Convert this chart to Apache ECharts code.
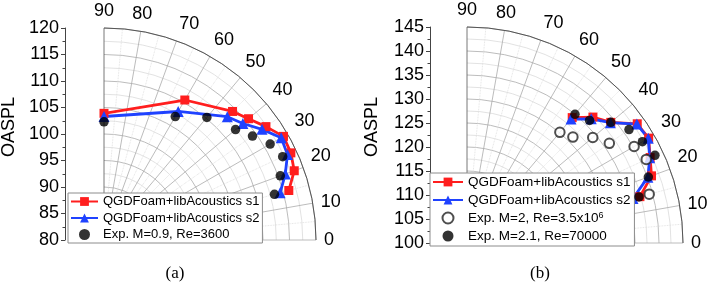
<!DOCTYPE html>
<html><head><meta charset="utf-8">
<script src="https://cdn.jsdelivr.net/npm/echarts@6/dist/echarts.min.js"></script>
<style>html,body{margin:0;padding:0;background:#fff}#c{width:710px;height:287px}</style>
</head><body><div id="c"></div>
<script>
// ---- Data ----
const angleTicks = [0, 10, 20, 30, 40, 50, 60, 70, 80, 90];
const nameS1 = 'QGDFoam+libAcoustics s1';
const nameS2 = 'QGDFoam+libAcoustics s2';
const nameExpA = 'Exp. M=0.9, Re=3600';
const nameExpB1 = 'Exp. M=2, Re=3.5x10^6';
const nameExpB2 = 'Exp. M=2.1, Re=70000';

// Panel (a): OASPL vs angle
const aS1Angles = [90, 60, 45, 40, 35, 30, 25, 20, 15];
const aS1 = [103.9, 110.5, 114.3, 115.6, 117.3, 119.1, 118.9, 118.2, 116.1];
const aS2Angles = [90, 60, 45, 40, 35, 30, 25, 20, 15];
const aS2 = [103.3, 108.0, 112.9, 114.2, 116.4, 118.6, 118.2, 116.4, 114.4];
const aExpAngles = [90, 60, 50, 40, 35, 30, 25, 20, 15];
const aExp = [102.3, 106.9, 110.2, 112.4, 114.2, 116.2, 117.2, 115.4, 113.3];

// Panel (b)
const bS1Angles = [50, 45, 40, 35, 30, 25, 20, 15];
const bS1 = [134.1, 137.1, 139.1, 143.3, 143.7, 142.1, 140.9, 137.3];
const bS2Angles = [50, 45, 40, 35, 30, 25, 20, 15];
const bS2 = [133.7, 136.6, 139.0, 143.2, 143.6, 142.0, 140.1, 135.8];
const bExp1Angles = [50, 45, 40, 35, 30, 25, 15];
const bExp1 = [130.1, 131.2, 134.2, 136.2, 140.2, 141.2, 139.3];
const bExp2Angles = [50, 45, 40, 35, 30, 25, 20, 15];
const bExp2 = [135.0, 136.1, 139.1, 141.2, 142.2, 143.2, 140.2, 137.1];

const aRange = [80, 120];
const bRange = [100, 145];

// ---- Styling / layout ----
const FONT = '"Liberation Sans", Arial, sans-serif';
const RED = '#ff1e1e', BLUE = '#1f42ff';
const MAJOR = '#ababab', MINOR = '#dadada', DARK = '#555';

function zip(r, a) { return r.map((v, i) => [v, a[i]]); }

function angleAxis(idx) {
  const colors = angleTicks.map((t, i) => i === angleTicks.length - 1 ? DARK : MAJOR);
  return {
    polarIndex: idx, type: 'value', min: angleTicks[0], max: angleTicks[angleTicks.length - 1], interval: 10,
    startAngle: 0, endAngle: 90, clockwise: false,
    axisLine: { show: true, lineStyle: { color: DARK, width: 1 } },
    axisTick: { show: false },
    axisLabel: { fontSize: 18, color: '#000', fontFamily: FONT, margin: 8 },
    splitLine: { show: true, lineStyle: { color: colors, width: 0.8 } },
    minorTick: { show: false, splitNumber: 2 },
    minorSplitLine: { show: true, lineStyle: { color: MINOR, width: 0.8, type: 'dotted' } }
  };
}
function radiusAxis(idx, range) {
  return {
    polarIndex: idx, type: 'value', min: range[0], max: range[1], interval: 2.5,
    axisLine: { show: false },
    axisTick: { show: false }, axisLabel: { show: false },
    splitLine: { show: true, lineStyle: { color: [MAJOR, MINOR], width: 0.8 } },
    minorSplitLine: { show: false }
  };
}
function yAxis(idx, range) {
  return {
    gridIndex: idx, type: 'value', min: range[0], max: range[1], interval: 5,
    axisLine: { show: true, lineStyle: { color: '#444', width: 1 } },
    axisTick: { show: true, length: 4, lineStyle: { color: '#444' } },
    minorTick: { show: true, splitNumber: 2, length: 2.5, lineStyle: { color: '#444' } },
    axisLabel: { fontSize: 18, color: '#000', fontFamily: FONT, margin: 6 },
    splitLine: { show: false }
  };
}
function lineSeries(name, idx, data, color, symbol, size) {
  return {
    name, type: 'line', coordinateSystem: 'polar', polarIndex: idx, data,
    symbol, symbolSize: size, showSymbol: true,
    lineStyle: { color, width: 2.8 }, itemStyle: { color }, z: 3
  };
}
function scatterSeries(name, idx, data, open) {
  return {
    name, type: 'scatter', coordinateSystem: 'polar', polarIndex: idx, data,
    symbol: open ? 'emptyCircle' : 'circle', symbolSize: 9.5,
    itemStyle: open ? { color: '#222', borderWidth: 1 } : { color: '#000' }, z: 4
  };
}
function legend(left, top, names, fontSize, itemWidth, gap, padding) {
  return {
    left, top, orient: 'vertical', data: names, selectedMode: false,
    itemWidth, itemHeight: 11, itemGap: gap, padding,
    backgroundColor: '#fff', borderColor: '#8c8c8c', borderWidth: 1,
    textStyle: { fontSize, fontFamily: FONT, color: '#000',
      rich: { sup: { fontSize: 9, fontFamily: FONT, verticalAlign: 'top', lineHeight: 9 } } },
    formatter: n => n.replace('^6', '{sup|6}')
  };
}

const option = {
  animation: false,
  backgroundColor: '#fff',
  polar: [
    { center: [104, 240], radius: 212 },
    { center: [467, 243], radius: 216 }
  ],
  angleAxis: [angleAxis(0), angleAxis(1)],
  radiusAxis: [radiusAxis(0, aRange), radiusAxis(1, bRange)],
  grid: [
    { left: 65, top: 28, width: 10, height: 212 },
    { left: 430, top: 27, width: 10, height: 216 }
  ],
  xAxis: [
    { gridIndex: 0, type: 'value', show: false, min: 0, max: 1 },
    { gridIndex: 1, type: 'value', show: false, min: 0, max: 1 }
  ],
  yAxis: [yAxis(0, aRange), yAxis(1, bRange)],
  legend: [
    legend(68, 193, [nameS1, nameS2, nameExpA], 13, 27, 3.5, [2, 3, 2, 2]),
    legend(430, 173, [nameS1, nameS2, nameExpB1, nameExpB2], 13.5, 30, 4, [2, 4, 3, 2])
  ],
  graphic: [
    { type: 'text', x: 9, y: 127, rotation: Math.PI / 2,
      style: { text: 'OASPL', fontSize: 18, fontFamily: FONT, fill: '#000', align: 'center', verticalAlign: 'middle' } },
    { type: 'text', x: 372, y: 127, rotation: Math.PI / 2,
      style: { text: 'OASPL', fontSize: 18, fontFamily: FONT, fill: '#000', align: 'center', verticalAlign: 'middle' } },
    { type: 'text', x: 175, y: 274,
      style: { text: '(a)', fontSize: 17, fontFamily: '"Liberation Serif", "Times New Roman", serif', fill: '#000', align: 'center', verticalAlign: 'middle' } },
    { type: 'text', x: 540, y: 274,
      style: { text: '(b)', fontSize: 17, fontFamily: '"Liberation Serif", "Times New Roman", serif', fill: '#000', align: 'center', verticalAlign: 'middle' } }
  ],
  series: [
    lineSeries(nameS1, 0, zip(aS1, aS1Angles), RED, 'rect', 9),
    lineSeries(nameS2, 0, zip(aS2, aS2Angles), BLUE, 'triangle', 11),
    scatterSeries(nameExpA, 0, zip(aExp, aExpAngles), false),
    lineSeries(nameS1, 1, zip(bS1, bS1Angles), RED, 'rect', 9),
    lineSeries(nameS2, 1, zip(bS2, bS2Angles), BLUE, 'triangle', 11),
    scatterSeries(nameExpB1, 1, zip(bExp1, bExp1Angles), true),
    scatterSeries(nameExpB2, 1, zip(bExp2, bExp2Angles), false)
  ]
};
const chart = echarts.init(document.getElementById('c'));
chart.setOption(option);
</script>
</body></html>
